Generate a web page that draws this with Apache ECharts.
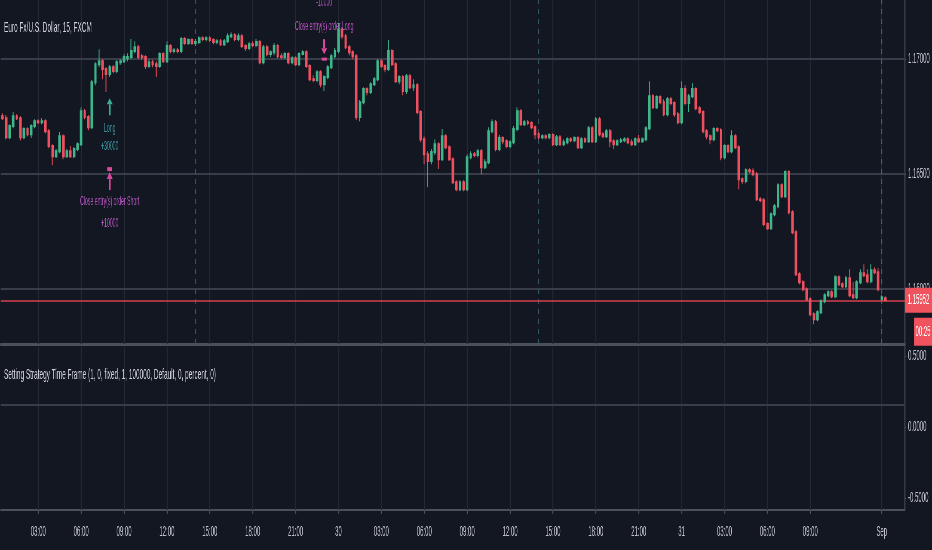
<!DOCTYPE html>
<html>
<head>
<meta charset="utf-8">
<title>Euro Fx/U.S. Dollar, 15</title>
<script src="https://cdn.jsdelivr.net/npm/echarts@6/dist/echarts.min.js"></script>
<style>
  html, body { margin: 0; padding: 0; overflow: hidden; background: #131722; }
  #chart { width: 2168px; height: 550px; transform-origin: 0 0; }
</style>
</head>
<body>
<div id="chart"></div>
<script>
// the reference screenshot is squeezed sideways, so the chart is drawn wide and scaled down in x
var SX = 932 / 2168

// 15 min bars, [open, close, low, high]
var bars = [
  [1.16752,1.16743,1.16735,1.16765],[1.16743,1.16661,1.16652,1.16757],[1.16661,1.16709,1.16652,1.16717],[1.16709,1.16752,1.16700,1.16770],
  [1.16752,1.16743,1.16735,1.16761],[1.16743,1.16661,1.16648,1.16752],[1.16661,1.16696,1.16652,1.16704],[1.16696,1.16674,1.16665,1.16704],
  [1.16674,1.16709,1.16657,1.16717],[1.16709,1.16730,1.16700,1.16739],[1.16730,1.16726,1.16717,1.16739],[1.16726,1.16730,1.16717,1.16743],
  [1.16730,1.16687,1.16678,1.16739],[1.16687,1.16622,1.16613,1.16696],[1.16622,1.16578,1.16539,1.16630],[1.16578,1.16600,1.16570,1.16609],
  [1.16600,1.16665,1.16591,1.16683],[1.16665,1.16578,1.16565,1.16674],[1.16578,1.16600,1.16570,1.16609],[1.16600,1.16578,1.16570,1.16622],
  [1.16578,1.16609,1.16570,1.16617],[1.16609,1.16630,1.16600,1.16639],[1.16630,1.16774,1.16622,1.16791],[1.16774,1.16748,1.16739,1.16783],
  [1.16748,1.16704,1.16691,1.16757],[1.16704,1.16900,1.16696,1.16909],[1.16900,1.16978,1.16887,1.16987],[1.16978,1.16991,1.16965,1.17043],
  [1.16991,1.16957,1.16913,1.17000],[1.16957,1.16935,1.16857,1.16965],[1.16935,1.16965,1.16922,1.16974],[1.16965,1.16948,1.16939,1.16974],
  [1.16948,1.16987,1.16939,1.16996],[1.16987,1.16991,1.16974,1.17000],[1.16991,1.17009,1.16983,1.17022],[1.17004,1.17009,1.16991,1.17026],
  [1.17009,1.17035,1.17000,1.17087],[1.17035,1.17052,1.17026,1.17078],[1.17052,1.17009,1.17000,1.17061],[1.17013,1.17009,1.16996,1.17022],
  [1.17009,1.16970,1.16957,1.17017],[1.16970,1.16987,1.16961,1.17000],[1.16987,1.16978,1.16965,1.16996],[1.16978,1.16970,1.16922,1.16991],
  [1.16970,1.17022,1.16961,1.17030],[1.17022,1.16991,1.16983,1.17030],[1.16991,1.17057,1.16983,1.17078],[1.17057,1.17035,1.17026,1.17065],
  [1.17035,1.17039,1.17026,1.17048],[1.17039,1.17035,1.17026,1.17048],[1.17035,1.17087,1.17026,1.17096],[1.17087,1.17070,1.17061,1.17096],
  [1.17070,1.17083,1.17061,1.17091],[1.17083,1.17070,1.17061,1.17091],[1.17070,1.17074,1.17057,1.17087],[1.17074,1.17091,1.17065,1.17100],
  [1.17091,1.17087,1.17078,1.17100],[1.17087,1.17091,1.17078,1.17100],[1.17091,1.17083,1.17074,1.17100],[1.17083,1.17074,1.17065,1.17091],
  [1.17074,1.17078,1.17065,1.17087],[1.17078,1.17065,1.17057,1.17087],[1.17065,1.17078,1.17057,1.17087],[1.17078,1.17100,1.17070,1.17113],
  [1.17100,1.17104,1.17091,1.17117],[1.17104,1.17087,1.17078,1.17113],[1.17087,1.17100,1.17078,1.17113],[1.17100,1.17057,1.17048,1.17109],
  [1.17057,1.17048,1.17035,1.17065],[1.17048,1.17065,1.17039,1.17074],[1.17065,1.17061,1.17052,1.17078],[1.17061,1.17074,1.17052,1.17087],
  [1.17074,1.16987,1.16978,1.17083],[1.16987,1.17052,1.16978,1.17061],[1.17052,1.17022,1.17013,1.17061],[1.17022,1.17030,1.17009,1.17039],
  [1.17030,1.17057,1.17017,1.17070],[1.17057,1.17013,1.17004,1.17065],[1.17013,1.17009,1.17000,1.17026],[1.17009,1.17022,1.17000,1.17030],
  [1.17022,1.16987,1.16978,1.17030],[1.16987,1.17004,1.16978,1.17013],[1.17004,1.16978,1.16970,1.17013],[1.16978,1.17022,1.16970,1.17030],
  [1.17022,1.17030,1.17017,1.17039],[1.17030,1.16970,1.16961,1.17039],[1.16970,1.16913,1.16904,1.16978],[1.16913,1.16909,1.16900,1.16930],
  [1.16909,1.16943,1.16900,1.16952],[1.16943,1.16891,1.16878,1.16952],[1.16891,1.16922,1.16861,1.16930],[1.16922,1.16965,1.16913,1.16974],
  [1.16965,1.17013,1.16957,1.17022],[1.17013,1.17035,1.17004,1.17048],[1.17035,1.17130,1.17026,1.17157],[1.17130,1.17100,1.17087,1.17139],
  [1.17100,1.17052,1.17043,1.17109],[1.17052,1.17030,1.17017,1.17061],[1.17030,1.17013,1.17000,1.17039],[1.17013,1.16748,1.16735,1.17022],
  [1.16748,1.16813,1.16730,1.16822],[1.16813,1.16870,1.16804,1.16878],[1.16870,1.16857,1.16843,1.16878],[1.16857,1.16891,1.16848,1.16900],
  [1.16891,1.16913,1.16883,1.16922],[1.16913,1.16991,1.16904,1.17000],[1.16991,1.16970,1.16961,1.17000],[1.16970,1.16957,1.16943,1.16978],
  [1.16957,1.17035,1.16948,1.17083],[1.17035,1.16978,1.16970,1.17043],[1.16978,1.16904,1.16896,1.16987],[1.16904,1.16922,1.16891,1.16930],
  [1.16922,1.16861,1.16843,1.16930],[1.16861,1.16926,1.16848,1.16935],[1.16926,1.16878,1.16870,1.16935],[1.16878,1.16887,1.16861,1.16913],
  [1.16887,1.16770,1.16761,1.16896],[1.16770,1.16652,1.16639,1.16778],[1.16652,1.16587,1.16543,1.16665],[1.16587,1.16557,1.16443,1.16600],
  [1.16557,1.16596,1.16543,1.16609],[1.16596,1.16630,1.16583,1.16652],[1.16630,1.16565,1.16522,1.16639],[1.16565,1.16665,1.16557,1.16696],
  [1.16665,1.16617,1.16609,1.16674],[1.16617,1.16565,1.16557,1.16626],[1.16565,1.16465,1.16457,1.16574],[1.16465,1.16435,1.16426,1.16474],
  [1.16435,1.16465,1.16426,1.16474],[1.16465,1.16435,1.16426,1.16474],[1.16435,1.16574,1.16426,1.16587],[1.16574,1.16587,1.16565,1.16600],
  [1.16587,1.16583,1.16574,1.16596],[1.16583,1.16600,1.16574,1.16609],[1.16600,1.16530,1.16500,1.16609],[1.16530,1.16552,1.16522,1.16565],
  [1.16552,1.16687,1.16543,1.16704],[1.16687,1.16726,1.16678,1.16739],[1.16726,1.16609,1.16600,1.16735],[1.16609,1.16657,1.16600,1.16670],
  [1.16657,1.16643,1.16630,1.16665],[1.16643,1.16622,1.16613,1.16652],[1.16622,1.16639,1.16613,1.16648],[1.16639,1.16696,1.16630,1.16709],
  [1.16696,1.16774,1.16687,1.16791],[1.16774,1.16717,1.16709,1.16783],[1.16717,1.16726,1.16709,1.16735],[1.16726,1.16722,1.16713,1.16735],
  [1.16722,1.16704,1.16696,1.16730],[1.16704,1.16674,1.16652,1.16713],[1.16674,1.16661,1.16652,1.16683],[1.16661,1.16665,1.16652,1.16674],
  [1.16665,1.16661,1.16652,1.16674],[1.16661,1.16670,1.16652,1.16678],[1.16670,1.16630,1.16622,1.16678],[1.16630,1.16661,1.16622,1.16670],
  [1.16661,1.16630,1.16622,1.16670],[1.16630,1.16639,1.16622,1.16652],[1.16639,1.16652,1.16630,1.16661],[1.16652,1.16648,1.16639,1.16661],
  [1.16648,1.16657,1.16639,1.16665],[1.16657,1.16617,1.16609,1.16665],[1.16617,1.16652,1.16609,1.16661],[1.16652,1.16643,1.16635,1.16661],
  [1.16643,1.16700,1.16635,1.16709],[1.16700,1.16643,1.16635,1.16709],[1.16643,1.16739,1.16635,1.16748],[1.16739,1.16674,1.16665,1.16748],
  [1.16674,1.16665,1.16657,1.16683],[1.16665,1.16687,1.16657,1.16696],[1.16687,1.16643,1.16617,1.16696],[1.16643,1.16630,1.16609,1.16652],
  [1.16630,1.16643,1.16622,1.16652],[1.16643,1.16648,1.16635,1.16657],[1.16648,1.16652,1.16639,1.16661],[1.16652,1.16639,1.16630,1.16661],
  [1.16639,1.16630,1.16622,1.16652],[1.16630,1.16652,1.16622,1.16661],[1.16652,1.16643,1.16635,1.16670],[1.16643,1.16652,1.16635,1.16661],
  [1.16652,1.16700,1.16643,1.16709],[1.16700,1.16839,1.16691,1.16904],[1.16839,1.16791,1.16783,1.16848],[1.16791,1.16835,1.16783,1.16843],
  [1.16835,1.16813,1.16804,1.16843],[1.16813,1.16761,1.16752,1.16826],[1.16761,1.16826,1.16752,1.16835],[1.16826,1.16809,1.16800,1.16835],
  [1.16809,1.16761,1.16748,1.16817],[1.16761,1.16726,1.16717,1.16770],[1.16726,1.16870,1.16717,1.16904],[1.16870,1.16809,1.16800,1.16887],
  [1.16809,1.16839,1.16770,1.16848],[1.16839,1.16870,1.16830,1.16896],[1.16870,1.16787,1.16778,1.16878],[1.16787,1.16770,1.16761,1.16796],
  [1.16770,1.16687,1.16678,1.16778],[1.16687,1.16665,1.16652,1.16696],[1.16665,1.16652,1.16630,1.16674],[1.16652,1.16696,1.16643,1.16704],
  [1.16696,1.16691,1.16683,1.16704],[1.16691,1.16574,1.16561,1.16700],[1.16574,1.16622,1.16565,1.16630],[1.16622,1.16600,1.16591,1.16630],
  [1.16600,1.16665,1.16591,1.16691],[1.16665,1.16617,1.16609,1.16674],[1.16617,1.16478,1.16435,1.16626],[1.16478,1.16470,1.16457,1.16487],
  [1.16470,1.16517,1.16461,1.16526],[1.16517,1.16513,1.16504,1.16526],[1.16513,1.16500,1.16491,1.16526],[1.16500,1.16391,1.16383,1.16509],
  [1.16391,1.16387,1.16378,1.16400],[1.16387,1.16283,1.16274,1.16396],[1.16283,1.16265,1.16257,1.16291],[1.16265,1.16326,1.16257,1.16335],
  [1.16326,1.16361,1.16317,1.16370],[1.16361,1.16452,1.16352,1.16461],[1.16452,1.16404,1.16396,1.16461],[1.16404,1.16509,1.16396,1.16517],
  [1.16509,1.16335,1.16326,1.16517],[1.16335,1.16248,1.16239,1.16343],[1.16248,1.16065,1.16057,1.16257],[1.16065,1.16030,1.16022,1.16074],
  [1.16030,1.16000,1.15991,1.16039],[1.16000,1.15957,1.15948,1.16009],[1.15957,1.15891,1.15883,1.15965],[1.15891,1.15870,1.15848,1.15900],
  [1.15870,1.15900,1.15861,1.15909],[1.15900,1.15948,1.15891,1.15957],[1.15948,1.15974,1.15939,1.15983],[1.15974,1.15987,1.15965,1.15996],
  [1.15987,1.15970,1.15961,1.15996],[1.15970,1.16052,1.15961,1.16061],[1.16052,1.16022,1.16013,1.16061],[1.16022,1.16013,1.16004,1.16030],
  [1.16013,1.16048,1.16004,1.16057],[1.16048,1.15974,1.15965,1.16087],[1.15974,1.15965,1.15957,1.16030],[1.15965,1.16030,1.15957,1.16039],
  [1.16030,1.16070,1.16022,1.16087],[1.16070,1.16061,1.16052,1.16109],[1.16061,1.16035,1.16026,1.16087],[1.16035,1.16083,1.16026,1.16109],
  [1.16083,1.16074,1.16065,1.16096],[1.16074,1.16000,1.15991,1.16091],[1.15957,1.15965,1.15952,1.15974],[1.15961,1.15952,1.15948,1.15970]
]
var slotCount = 253 // bars plus empty space on the right

// time axis
var tickIndex = [10, 22, 34, 46, 58, 70, 82, 94, 106, 118, 130, 142, 154, 166, 178, 190, 202, 214, 226, 246]
var tickText = ['03:00', '06:00', '09:00', '12:00', '15:00', '18:00', '21:00', '30', '03:00', '06:00',
  '09:00', '12:00', '15:00', '18:00', '21:00', '31', '03:00', '06:00', '09:00', 'Sep']
var sessionIndex = [54, 150, 246]

// price scale
var priceTicks = [1.16, 1.165, 1.17]
var lastPrice = 1.15952
var countdown = '00:25'

// strategy pane
var paneTicks = [-0.5, 0, 0.5]
var paneGuide = 0.155

// order marks: bar index, price at the marker, kind, text, quantity
var markIndex = [30, 30, 90]
var markPrice = [1.16830, 1.16522, 1.17000]
var markKind = ['long', 'closeShort', 'closeLong']
var markText = ['Long', 'Close entry(s) order Short', 'Close entry(s) order Long']
var markQty = ['+30000', '+10000', '-10000']

var UP = '#3fb68b'
var DOWN = '#ef5160'
var BG = '#131722'
var RED = '#f0525e'
var LINE = '#4c505b'
var FONT = '"Liberation Sans", Arial, sans-serif'

var el = document.getElementById('chart')
el.style.transform = 'scaleX(' + SX + ')'
var chart = echarts.init(el)

var slots = []
for (var s = 0; s < slotCount; s++) slots.push(String(s))

var gridLeft = 0.7 / SX
var axisX = 905 / SX
var gridRight = 2168 - axisX

function isTick(index) {
  return tickIndex.indexOf(index) >= 0
}

function vLines(idxs, color, type) {
  return idxs.map(function (i) {
    return { xAxis: i, lineStyle: { color: color, width: 1 / SX, type: type } }
  })
}

function hLine(v, color, width) {
  return { yAxis: v, lineStyle: { color: color, width: width, type: 'solid' } }
}

function renderMark(params, api) {
  var i = params.dataIndex
  var p = api.coord([api.value(0), api.value(1)])
  var x = p[0]
  var y = p[1]
  var k = 1 / SX
  var kind = markKind[i]
  var fill = kind === 'long' ? '#3aa994' : '#d9489a'
  var txt = kind === 'long' ? '#3a9aa4' : '#b655c0'
  var ch = []
  var font = '12px ' + FONT
  var t1, t2
  if (kind === 'long') {
    ch.push({ type: 'polygon', shape: { points: [[x, y], [x - 3 * k, y + 6], [x + 3 * k, y + 6]] }, style: { fill: fill } })
    ch.push({ type: 'rect', shape: { x: x - 0.9 * k, y: y + 6, width: 1.8 * k, height: 11 }, style: { fill: fill } })
    t1 = y + 30
    t2 = y + 48.5
  } else if (kind === 'closeShort') {
    ch.push({ type: 'rect', shape: { x: x - 2.5 * k, y: y - 2, width: 5 * k, height: 4 }, style: { fill: fill } })
    ch.push({ type: 'polygon', shape: { points: [[x, y + 3], [x - 3 * k, y + 10], [x + 3 * k, y + 10]] }, style: { fill: fill } })
    ch.push({ type: 'rect', shape: { x: x - 0.9 * k, y: y + 10, width: 1.8 * k, height: 11 }, style: { fill: fill } })
    t1 = y + 32.5
    t2 = y + 54.5
  } else {
    ch.push({ type: 'rect', shape: { x: x - 2.5 * k, y: y - 1.5, width: 5 * k, height: 3 }, style: { fill: fill } })
    ch.push({ type: 'polygon', shape: { points: [[x, y - 5], [x - 3 * k, y - 11], [x + 3 * k, y - 11]] }, style: { fill: fill } })
    ch.push({ type: 'rect', shape: { x: x - 0.9 * k, y: y - 20, width: 1.8 * k, height: 9 }, style: { fill: fill } })
    t1 = y - 32
    t2 = y - 56
  }
  ch.push({ type: 'text', style: { x: x, y: t1, text: markText[i], fill: txt, font: font, align: 'center', verticalAlign: 'middle' } })
  ch.push({ type: 'text', style: { x: x, y: t2, text: markQty[i], fill: txt, font: font, align: 'center', verticalAlign: 'middle' } })
  return { type: 'group', children: ch }
}

var axisLabelStyle = { margin: 7, color: '#c3c6ce', fontSize: 14, fontFamily: FONT }

chart.setOption({
  backgroundColor: BG,
  animation: false,
  textStyle: { fontFamily: FONT },
  title: [
    {
      text: 'Euro Fx/U.S. Dollar, 15, FXCM',
      left: 4 / SX,
      top: 20,
      padding: 0,
      textStyle: { color: '#d1d4dc', fontSize: 15, fontWeight: 'normal', fontFamily: FONT }
    },
    {
      text: 'Setting Strategy Time Frame (1, 0, fixed, 1, 100000, Default, 0, percent, 0)',
      left: 4 / SX,
      top: 367,
      padding: 0,
      textStyle: { color: '#d1d4dc', fontSize: 15, fontWeight: 'normal', fontFamily: FONT }
    }
  ],
  grid: [
    { left: gridLeft, right: gridRight, top: 0, height: 344, outerBoundsMode: 'none' },
    { left: gridLeft, right: gridRight, top: 347, height: 163, outerBoundsMode: 'none' }
  ],
  xAxis: [
    {
      type: 'category',
      gridIndex: 0,
      data: slots,
      boundaryGap: true,
      axisLine: { show: true, onZero: false, lineStyle: { color: LINE, width: 3 } },
      axisTick: { show: false },
      axisLabel: { show: false },
      splitLine: { show: false }
    },
    {
      type: 'category',
      gridIndex: 1,
      data: slots,
      boundaryGap: true,
      axisLine: { show: true, onZero: false, lineStyle: { color: LINE, width: 2 } },
      axisTick: { show: true, interval: isTick, alignWithLabel: true, length: 4, lineStyle: { color: LINE, width: 1 / SX } },
      axisLabel: {
        interval: isTick,
        margin: 15,
        color: '#c3c6ce',
        fontSize: 14,
        fontFamily: FONT,
        formatter: function (v, index) {
          var t = tickIndex.indexOf(index)
          return t >= 0 ? tickText[t] : ''
        }
      },
      splitLine: { show: false }
    }
  ],
  yAxis: [
    {
      type: 'value',
      gridIndex: 0,
      position: 'right',
      min: 1.15762,
      max: 1.17257,
      axisLine: { show: true, lineStyle: { color: LINE, width: 1 / SX } },
      axisTick: { show: true, customValues: priceTicks, length: 3, lineStyle: { color: LINE } },
      axisLabel: Object.assign({
        customValues: priceTicks,
        formatter: function (v) { return v.toFixed(5) }
      }, axisLabelStyle),
      splitLine: { show: false }
    },
    {
      type: 'value',
      gridIndex: 1,
      position: 'right',
      min: -0.5845,
      max: 0.5634,
      axisLine: { show: true, lineStyle: { color: LINE, width: 1 / SX } },
      axisTick: { show: true, customValues: paneTicks, length: 3, lineStyle: { color: LINE } },
      axisLabel: Object.assign({
        customValues: paneTicks,
        formatter: function (v) { return v.toFixed(4) }
      }, axisLabelStyle),
      splitLine: { show: false }
    }
  ],
  series: [
    {
      // grid lines, session breaks and last price line of the price pane
      type: 'line',
      xAxisIndex: 0,
      yAxisIndex: 0,
      data: [],
      z: 1,
      markLine: {
        silent: true,
        symbol: 'none',
        precision: 6, // default would round the price to 2 decimals
        z: 1,
        label: { show: false },
        data: vLines(tickIndex, '#252935', 'solid')
          .concat(priceTicks.map(function (p) { return hLine(p, '#393d49', 2) }))
          .concat(vLines(sessionIndex.slice(0, 2), '#345465', [5, 5]))
          .concat(vLines(sessionIndex.slice(2), '#2b6a78', [5, 5]))
          .concat([hLine(lastPrice, '#d8414f', 1.5)])
      }
    },
    {
      // grid lines of the strategy pane
      type: 'line',
      xAxisIndex: 1,
      yAxisIndex: 1,
      data: [],
      z: 1,
      markLine: {
        silent: true,
        symbol: 'none',
        precision: 6,
        z: 1,
        label: { show: false },
        data: vLines(tickIndex, '#252935', 'solid').concat([hLine(paneGuide, '#393d49', 2)])
      }
    },
    {
      type: 'candlestick',
      xAxisIndex: 0,
      yAxisIndex: 0,
      data: bars,
      barWidth: 4.4,
      z: 2,
      itemStyle: {
        color: UP,
        color0: DOWN,
        borderColor: UP,
        borderColor0: DOWN,
        borderWidth: 2
      }
    },
    {
      type: 'custom',
      xAxisIndex: 0,
      yAxisIndex: 0,
      clip: false,
      z: 5,
      renderItem: renderMark,
      data: markIndex.map(function (x, i) { return [x, markPrice[i]] })
    }
  ]
})

// last price tag and bar countdown on the price scale
var py = chart.convertToPixel({ yAxisIndex: 0 }, lastPrice)
chart.setOption({
  graphic: [
    { type: 'rect', z: 50, shape: { x: axisX, y: py - 12.5, width: 27 / SX, height: 25 }, style: { fill: RED } },
    { type: 'text', z: 51, style: { x: axisX + 13.5 / SX, y: py, text: lastPrice.toFixed(5), fill: '#ffffff', font: '14px ' + FONT, align: 'center', verticalAlign: 'middle' } },
    { type: 'rect', z: 50, shape: { x: 914 / SX, y: py + 17.5, width: 18 / SX, height: 28 }, style: { fill: RED } },
    { type: 'text', z: 51, style: { x: 923 / SX, y: py + 31.5, text: countdown, fill: '#ffffff', font: '14px ' + FONT, align: 'center', verticalAlign: 'middle' } }
  ]
})
</script>
</body>
</html>
